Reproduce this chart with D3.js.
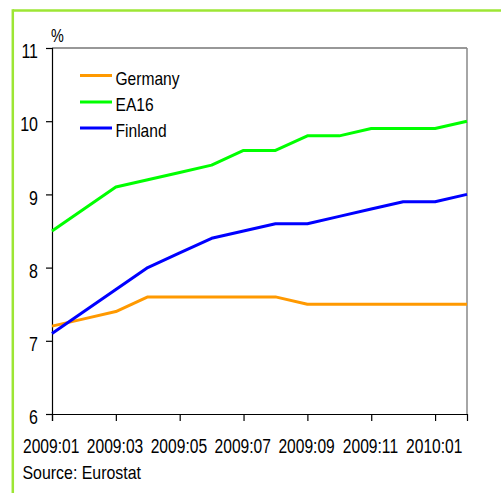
<!DOCTYPE html>
<html><head><meta charset="utf-8">
<script src="https://cdn.jsdelivr.net/npm/d3@7"></script>
<style>
html,body{margin:0;padding:0;background:#fff;}
svg{display:block;}
text{font-family:"Liberation Sans",Arial,sans-serif;fill:#000;}
</style></head>
<body>
<svg id="chart" width="501" height="493"></svg>
<script>
const months = ["2009:01","2009:02","2009:03","2009:04","2009:05","2009:06","2009:07","2009:08","2009:09","2009:10","2009:11","2009:12","2010:01","2010:02"];
const xTickLabels = ["2009:01","2009:03","2009:05","2009:07","2009:09","2009:11","2010:01"];
const yTicks = [6,7,8,9,10,11];
const seriesNames = ["Germany","EA16","Finland"];
const seriesColors = ["#ff9900","#00ff00","#0000ff"];
const germany = [7.2,7.3,7.4,7.6,7.6,7.6,7.6,7.6,7.5,7.5,7.5,7.5,7.5,7.5];
const ea16    = [8.5,8.8,9.1,9.2,9.3,9.4,9.6,9.6,9.8,9.8,9.9,9.9,9.9,10.0];
const finland = [7.1,7.4,7.7,8.0,8.2,8.4,8.5,8.6,8.6,8.7,8.8,8.9,8.9,9.0];
const seriesValues = [germany, ea16, finland];

const svg = d3.select("#chart");
const L = 52, R = 467, T = 48, B = 414;
const x = d3.scalePoint().domain(months).range([L, R]);
const y = d3.scaleLinear().domain([6, 11]).range([B, T]);
const FS = 19.5;

function condense(sel, k){
  sel.each(function(){
    const w = this.getComputedTextLength();
    d3.select(this).attr("textLength", w*k).attr("lengthAdjust","spacingAndGlyphs");
  });
}

// outer green frame (top and left)
svg.append("line").attr("x1",12.8).attr("x2",501).attr("y1",10.5).attr("y2",10.5)
  .attr("stroke","#9de634").attr("stroke-width",2.5);
svg.append("line").attr("x1",12.8).attr("x2",12.8).attr("y1",9.3).attr("y2",493)
  .attr("stroke","#9de634").attr("stroke-width",2.5);

// plot frame: top and right
svg.append("line").attr("x1",L).attr("x2",R).attr("y1",T).attr("y2",T)
  .attr("stroke","#333").attr("stroke-width",1.2);
svg.append("line").attr("x1",R).attr("x2",R).attr("y1",T).attr("y2",B)
  .attr("stroke","#888").attr("stroke-width",1.5);

// y axis
const yAxis = svg.append("g").attr("transform",`translate(${L},0)`)
  .call(d3.axisLeft(y).tickValues(yTicks).tickSize(6).tickPadding(8).tickFormat(d3.format("d")));
yAxis.select(".domain").attr("stroke","#000").attr("stroke-width",1.2);
yAxis.selectAll(".tick line").attr("stroke","#000").attr("stroke-width",1.2);
yAxis.selectAll(".tick text").attr("font-size",FS).attr("font-family","Liberation Sans, Arial, sans-serif")
  .attr("fill","#111").attr("dy","0.5em").call(condense, 0.82);

// x axis
const xAxis = svg.append("g").attr("transform",`translate(0,${B})`)
  .call(d3.axisBottom(x).tickValues(xTickLabels).tickSize(7).tickPadding(8));
xAxis.select(".domain").attr("stroke","#000").attr("stroke-width",1.2);
xAxis.selectAll(".tick line").attr("stroke","#000").attr("stroke-width",1.2);
xAxis.selectAll(".tick text").attr("font-size",FS).attr("font-family","Liberation Sans, Arial, sans-serif")
  .attr("fill","#111").attr("y",38.5).attr("dy","0").attr("dx","-1.3").call(condense, 0.8);

// % unit label
svg.append("text").attr("x",51).attr("y",42).attr("font-size",18).attr("fill","#111").text("%").call(condense, 0.8);

// lines
const line = d3.line().x((d,i)=>x(months[i])).y(d=>y(d));
seriesValues.forEach((vals, k)=>{
  svg.append("path").datum(vals).attr("d",line).attr("fill","none")
    .attr("stroke",seriesColors[k]).attr("stroke-width",3).attr("stroke-linejoin","round");
});

// legend
const legendY = [75.5, 102, 128];
seriesNames.forEach((name,k)=>{
  svg.append("line").attr("x1",80).attr("x2",112).attr("y1",legendY[k]).attr("y2",legendY[k])
    .attr("stroke",seriesColors[k]).attr("stroke-width",3);
  svg.append("text").attr("x",115.5).attr("y",legendY[k]+9).attr("font-size",19)
    .attr("fill","#222").text(name).call(condense, 0.82);
});

// source
svg.append("text").attr("x",22.5).attr("y",479).attr("font-size",18.5).attr("fill","#111").text("Source: Eurostat").call(condense, 0.86);
</script>
</body></html>
